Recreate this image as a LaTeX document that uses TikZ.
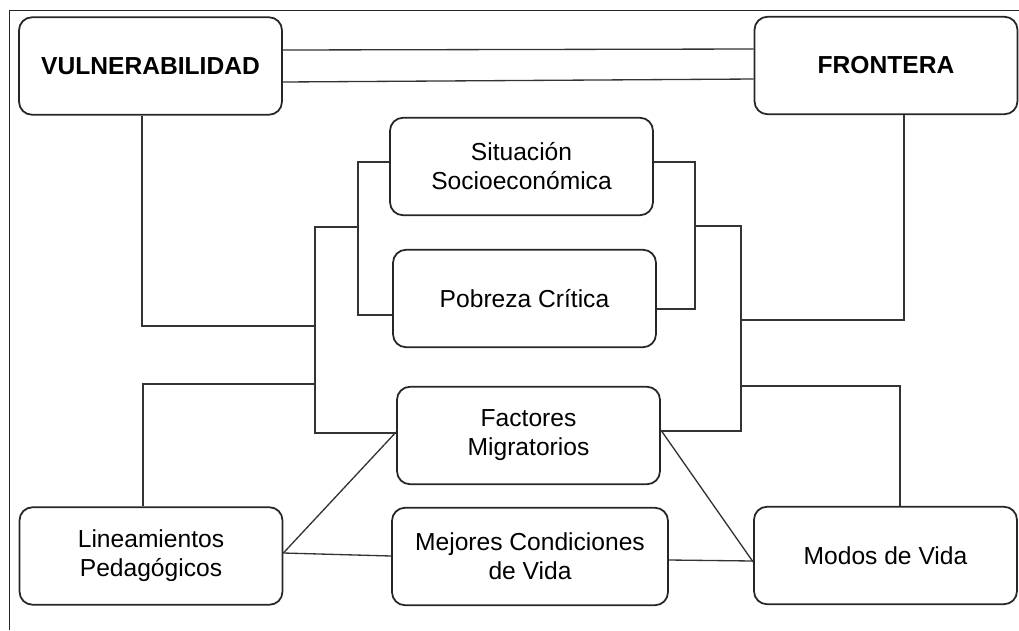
\documentclass[tikz,border=0pt]{standalone}
\usepackage{fontspec}
\setmainfont{Liberation Sans}
\usepackage{tikz}

\begin{document}
\begin{tikzpicture}[x=0.02cm, y=-0.02cm, % 1 unidad = 1 pixel
    caja/.style={draw=black!85, line width=1pt, rounded corners=0.26cm, align=center,
        minimum width=5.26cm, minimum height=1.95cm, inner sep=0pt,
        font=\fontsize{14pt}{16.5pt}\selectfont},
    enlace/.style={draw=black!80, line width=0.75pt}]
    \useasboundingbox (0,0) rectangle (1019,630);
    % Marco (solo borde superior e izquierdo)
    \draw[draw=black!85, line width=1.1pt] (9.5,630) -- (9.5,10.5) -- (1019,10.5);
    % Cajas principales
    \node[caja] (vul) at (150.5,66) {\bfseries VULNERABILIDAD};
    \node[caja] (fro) at (886,65.5) {\bfseries FRONTERA};
    % Cajas centrales
    \node[caja] (sit) at (521.5,166.5) {Situación\\Socioeconómica};
    \node[caja] (pob) at (524.5,298.5) {Pobreza Crítica};
    \node[caja] (fac) at (528.5,435.5) {Factores\\Migratorios};
    % Cajas inferiores
    \node[caja] (lin) at (151,556) {Lineamientos\\Pedagógicos};
    \node[caja, minimum width=5.52cm] (mej) at (530,556.5) {Mejores Condiciones\\de Vida};
    \node[caja] (mod) at (885.5,555.5) {Modos de Vida};
    % Puntos de union
    \coordinate (ci1) at (358,227);
    \coordinate (ci2) at (315,326);
    \coordinate (ci3) at (315,384);
    \coordinate (cd1) at (695,226);
    \coordinate (cd2) at (741,320);
    \coordinate (cd3) at (741,386);
    % Doble linea arriba
    \draw[enlace] (vul.east |- 0,50) -- (fro.west |- 0,49);
    \draw[enlace] (vul.east |- 0,82) -- (fro.west |- 0,79);
    % Lado izquierdo
    \draw[enlace] (sit.west |- 0,162) -| (358,315) -- (pob.west |- 0,315);
    \draw[enlace] (ci1) -| (315,433) -- (fac.west |- 0,433);
    \draw[enlace] (vul.south -| 142,0) |- (ci2);
    \draw[enlace] (lin.north -| 143,0) |- (ci3);
    % Lado derecho
    \draw[enlace] (sit.east |- 0,162) -| (695,309) -- (pob.east |- 0,309);
    \draw[enlace] (cd1) -| (741,431) -- (fac.east |- 0,431);
    \draw[enlace] (cd2) -| (fro.south -| 904,0);
    \draw[enlace] (cd3) -| (mod.north -| 900,0);
    % Diagonales de abajo
    \draw[enlace] (lin.east |- 0,553) -- (fac.west |- 0,432);
    \draw[enlace] (lin.east |- 0,553) -- (mej.west |- 0,556);
    \draw[enlace] (fac.east |- 0,430) -- (mod.west |- 0,562);
    \draw[enlace] (mej.east |- 0,560) -- (mod.west |- 0,561);
\end{tikzpicture}
\end{document}
